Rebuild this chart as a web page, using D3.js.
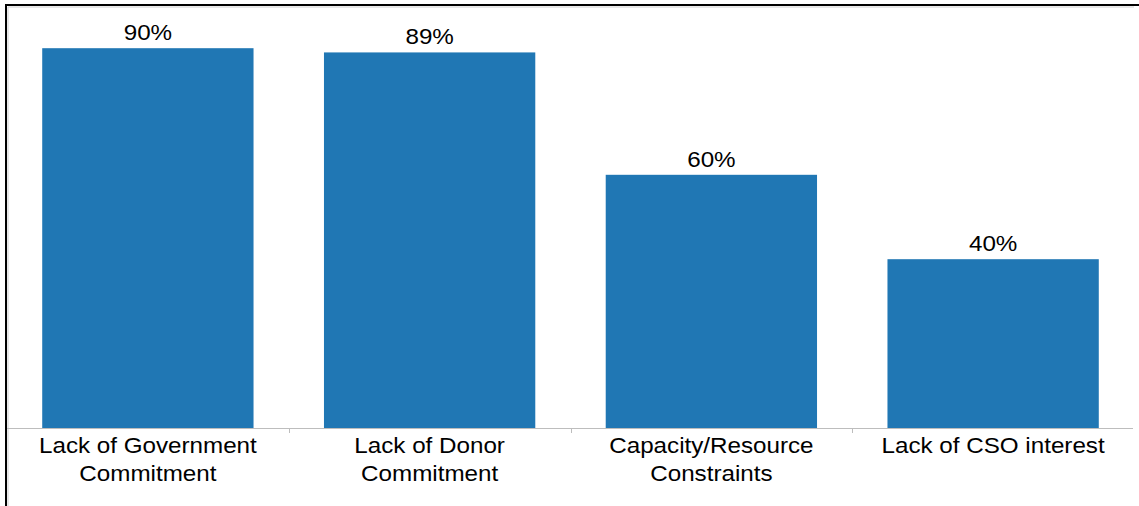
<!DOCTYPE html>
<html>
<head>
<meta charset="utf-8">
<script src="https://cdn.jsdelivr.net/npm/d3@7"></script>
<style>
  html, body { margin: 0; padding: 0; background: #fff; }
  svg { display: block; }
  text { font-family: "Liberation Sans", Arial, sans-serif; fill: #000; }
</style>
</head>
<body>
<svg id="chart" width="1139" height="506"></svg>
<script>
// Barriers reported, share of respondents (%)
const categories = [
  ["Lack of Government", "Commitment"],
  ["Lack of Donor", "Commitment"],
  ["Capacity/Resource", "Constraints"],
  ["Lack of CSO interest"]
];
const values = [90, 89, 60, 40];
const valueLabels = ["90%", "89%", "60%", "40%"];

const svg = d3.select("#chart");
const W = 1139, H = 506;
const plotLeft = 7, plotRight = 1134, plotBase = 428, plotTop = 6;
const textStretch = 1.1; // labels are set slightly wide

// frame (top and left edges)
svg.append("path")
  .attr("d", `M6,${H} V5 H${W}`)
  .attr("fill", "none").attr("stroke", "#000").attr("stroke-width", 2);
svg.append("path")
  .attr("d", `M8,${H} V7 H${plotRight}`)
  .attr("fill", "none").attr("stroke", "#d0d0d0").attr("stroke-width", 1);

const keys = categories.map((c, i) => i);
const x = d3.scaleBand().domain(keys).range([plotLeft, plotRight]).paddingInner(0.25).paddingOuter(0.125);
const y = d3.scaleLinear().domain([0, 100]).range([plotBase, plotTop]);

// bars
svg.append("g").selectAll("rect").data(values).join("rect")
  .attr("x", (d, i) => x(i))
  .attr("y", d => y(d))
  .attr("width", x.bandwidth())
  .attr("height", d => plotBase - y(d))
  .attr("fill", "#2077b4");

// value labels
svg.append("g").selectAll("text").data(values).join("text")
  .attr("transform", (d, i) => `translate(${x(i) + x.bandwidth() / 2},${y(d) - 8}) scale(${textStretch},1)`)
  .attr("text-anchor", "middle")
  .attr("font-size", 22)
  .text((d, i) => valueLabels[i]);

// category axis: baseline and group separators
svg.append("line")
  .attr("x1", plotLeft).attr("x2", plotRight - 1)
  .attr("y1", plotBase + 0.5).attr("y2", plotBase + 0.5)
  .attr("stroke", "#bdbdbd").attr("stroke-width", 1);
svg.append("g").selectAll("line").data(keys.slice(1)).join("line")
  .attr("x1", i => Math.round(x(i) - x.step() * x.paddingInner() / 2) + 0.5)
  .attr("x2", i => Math.round(x(i) - x.step() * x.paddingInner() / 2) + 0.5)
  .attr("y1", plotBase).attr("y2", plotBase + 5)
  .attr("stroke", "#bdbdbd");

// category labels
const cat = svg.append("g").selectAll("text").data(categories).join("text")
  .attr("transform", (d, i) => `translate(${x(i) + x.bandwidth() / 2},453) scale(${textStretch},1)`)
  .attr("text-anchor", "middle")
  .attr("font-size", 22);
cat.selectAll("tspan").data(d => d).join("tspan")
  .attr("x", 0)
  .attr("dy", (d, j) => j === 0 ? 0 : 28.5)
  .text(d => d);
</script>
</body>
</html>
